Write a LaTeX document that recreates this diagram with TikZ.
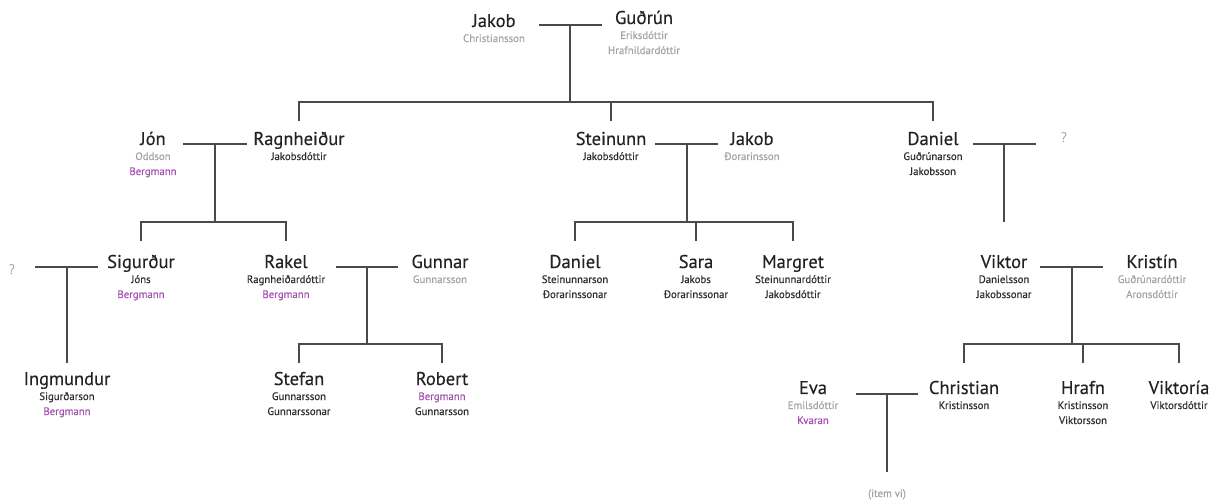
\documentclass[tikz,border=0pt]{standalone}
\usepackage{fontspec}
\setmainfont{PT Sans}
\newfontfamily\namef{PT Sans}[FakeBold=0.3]
\newfontfamily\subf{PT Sans}[FakeBold=0.5]
\definecolor{nmc}{HTML}{222222}
\definecolor{sbc}{HTML}{2E2E2E}
\definecolor{grc}{HTML}{A3A3A3}
\definecolor{puc}{HTML}{A452B0}
\definecolor{lnc}{HTML}{4A4A4A}
\tikzset{
  nm/.style={anchor=base, inner sep=0pt, text=nmc, font=\namef\fontsize{18.5}{21}\selectfont},
  sb/.style={anchor=base, inner sep=0pt, text=sbc, font=\subf\fontsize{10.8}{12}\selectfont},
  gr/.style={anchor=base, inner sep=0pt, text=grc, font=\subf\fontsize{10.8}{12}\selectfont},
  pu/.style={anchor=base, inner sep=0pt, text=puc, font=\subf\fontsize{10.8}{12}\selectfont},
  gq/.style={anchor=base, inner sep=0pt, text=grc, font=\fontsize{14}{16}\selectfont},
  ln/.style={draw=lnc, line width=2pt}
}
\newcommand\pone[6]{%
  \node[nm] (#1) at (#2,#3) {#4};
  \node[#5] (#1-a) at (#2,#3+15) {#6};}
\newcommand\ptwo[8]{%
  \node[nm] (#1) at (#2,#3) {#4};
  \node[#5] (#1-a) at (#2,#3+15) {#6};
  \node[#7] (#1-b) at (#2,#3+30) {#8};}
\begin{document}
\begin{tikzpicture}[x=1pt,y=-1pt]
\useasboundingbox (0,0) rectangle (1218,502);
% ---- generation 0
\pone{jakob}{494}{27}{Jakob}{gr}{Christiansson}
\ptwo{gudrun}{644}{24}{Guðrún}{gr}{Eriksdóttir}{gr}{Hrafnildardóttir}
% ---- generation 1
\ptwo{jon}{153}{145}{Jón}{gr}{Oddson}{pu}{Bergmann}
\pone{ragn}{299}{145}{Ragnheiður}{sb}{Jakobsdóttir}
\pone{stein}{611}{145}{Steinunn}{sb}{Jakobsdóttir}
\pone{jakobt}{752}{145}{Jakob}{gr}{Ðorarinsson}
\ptwo{danielg}{933}{145}{Daniel}{sb}{Guðrúnarson}{sb}{Jakobsson}
\node[gq] (qa) at (1064,143) {?};
% ---- generation 2
\node[gq] (qb) at (12,275) {?};
\ptwo{sig}{141}{268}{Sigurður}{sb}{Jóns}{pu}{Bergmann}
\ptwo{rakel}{286}{268}{Rakel}{sb}{Ragnheiðardóttir}{pu}{Bergmann}
\pone{gunnar}{440}{268}{Gunnar}{gr}{Gunnarsson}
\ptwo{daniels}{575}{268}{Daniel}{sb}{Steinunnarson}{sb}{Ðorarinssonar}
\ptwo{sara}{696}{268}{Sara}{sb}{Jakobs}{sb}{Ðorarinssonar}
\ptwo{margret}{793}{268}{Margret}{sb}{Steinunnardóttir}{sb}{Jakobsdóttir}
\ptwo{viktor}{1004}{268}{Viktor}{sb}{Danielsson}{sb}{Jakobssonar}
\ptwo{kristin}{1152}{268}{Kristín}{gr}{Guðrúnardóttir}{gr}{Aronsdóttir}
% ---- generation 3
\ptwo{ingm}{67}{385}{Ingmundur}{sb}{Sigurðarson}{pu}{Bergmann}
\ptwo{stefan}{299}{385}{Stefan}{sb}{Gunnarsson}{sb}{Gunnarssonar}
\ptwo{robert}{442}{385}{Robert}{pu}{Bergmann}{sb}{Gunnarsson}
\ptwo{eva}{813}{394}{Eva}{gr}{Emilsdóttir}{pu}{Kvaran}
\pone{christian}{964}{394}{Christian}{sb}{Kristinsson}
\ptwo{hrafn}{1083}{394}{Hrafn}{sb}{Kristinsson}{sb}{Viktorsson}
\pone{viktoria}{1179}{394}{Viktoría}{sb}{Viktorsdóttir}
\node[gr] (item) at (887,497) {(item vi)};
% ---- connector coordinates
\coordinate (ma) at (570,25);   \coordinate (ka) at (570,102);
\coordinate (mb) at (215,144);  \coordinate (kb) at (215,222);
\coordinate (mc) at (687,144);  \coordinate (kc) at (687,222);
\coordinate (md) at (1004,144); \coordinate (kd) at (1004,222);
\coordinate (me) at (67,267);   \coordinate (ke) at (67,363);
\coordinate (mf) at (367,267);  \coordinate (kf) at (367,344);
\coordinate (mg) at (1072,267); \coordinate (kg) at (1072,344);
\coordinate (mh) at (887,394);  \coordinate (kh) at (887,472);
% marriage lines
\draw[ln] ([xshift=-31]ma) -- ([xshift=32]ma);
\draw[ln] ([xshift=-32]mb) -- ([xshift=32]mb);
\draw[ln] ([xshift=-32]mc) -- ([xshift=31]mc);
\draw[ln] ([xshift=-31]md) -- ([xshift=32]md);
\draw[ln] ([xshift=-32]me) -- ([xshift=31]me);
\draw[ln] ([xshift=-31]mf) -- ([xshift=31]mf);
\draw[ln] ([xshift=-32]mg) -- ([xshift=31]mg);
\draw[ln] ([xshift=-31]mh) -- ([xshift=31]mh);
% descent lines
\draw[ln] (ma) -- (ka);
\draw[ln] (mb) -- (kb);
\draw[ln] (mc) -- (kc);
\draw[ln] (md) -- (kd);
\draw[ln] (me) -- (ke);
\draw[ln] (mf) -- (kf);
\draw[ln] (mg) -- (kg);
\draw[ln] (mh) -- (kh);
% sibling bars
\draw[ln] (ragn |- 0,121) -- (ragn |- ka) -- (danielg |- ka) -- (danielg |- 0,121);
\draw[ln] (stein |- ka) -- (stein |- 0,121);
\draw[ln] (sig |- 0,241) -- (sig |- kb) -- (rakel |- kb) -- (rakel |- 0,241);
\draw[ln] (daniels |- 0,241) -- (daniels |- kc) -- (margret |- kc) -- (margret |- 0,241);
\draw[ln] (sara |- kc) -- (sara |- 0,241);
\draw[ln] (stefan |- 0,363) -- (stefan |- kf) -- (robert |- kf) -- (robert |- 0,363);
\draw[ln] (christian |- 0,363) -- (christian |- kg) -- (viktoria |- kg) -- (viktoria |- 0,363);
\draw[ln] (hrafn |- kg) -- (hrafn |- 0,363);
\end{tikzpicture}
\end{document}
